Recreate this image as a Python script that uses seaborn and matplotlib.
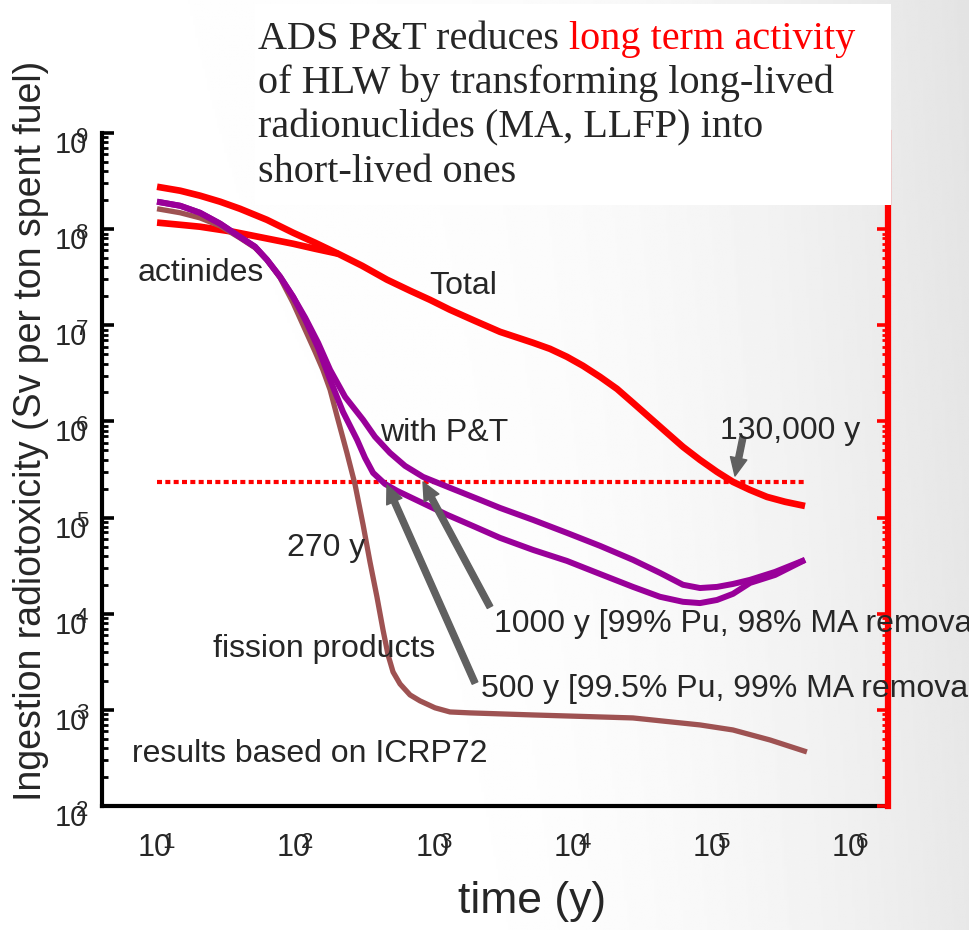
import numpy as np
import pandas as pd
import matplotlib
matplotlib.use("Agg")
import matplotlib.pyplot as plt
import matplotlib.transforms as mtransforms
from matplotlib.patches import Rectangle
from matplotlib.text import Annotation
from matplotlib.ticker import LogLocator, NullFormatter
import seaborn as sns

# ---------------- data ----------------
total_years = [10, 14.7, 20.4, 28.5, 39.6, 62, 95.7, 138, 202, 301, 455, 667,
               929, 1295, 1963, 2972, 5140, 6810, 9030, 11780, 15630, 20730,
               27040, 35840, 47530, 61960, 82200, 109000, 142200, 188500,
               250000, 337000, 470000]
total_sv = [2.76e8, 2.51e8, 2.23e8, 1.93e8, 1.63e8, 1.25e8, 9.18e7, 7.22e7,
            5.55e7, 4.16e7, 2.98e7, 2.29e7, 1.84e7, 1.45e7, 1.11e7, 8.55e6,
            6.58e6, 5.69e6, 4.70e6, 3.79e6, 2.91e6, 2.18e6, 1.56e6, 1.09e6,
            7.61e5, 5.44e5, 3.98e5, 2.99e5, 2.35e5, 1.94e5, 1.64e5, 1.46e5,
            1.32e5]

actinide_years = [10, 14.7, 20.4, 35.3, 59.1, 95.7, 138, 202]
actinide_sv = [1.17e8, 1.11e8, 1.06e8, 9.4e7, 8.1e7, 7.05e7, 6.25e7, 5.55e7]

fp_years = [10, 14.7, 20.4, 28.5, 39.6, 50.9, 62, 77.1, 95.7, 117, 138, 157,
            177, 199, 234, 268, 306, 343, 385, 426, 463, 503, 565, 667, 787,
            1010, 1295, 1805, 5140, 27000, 82200, 142000, 263000, 485000]
fp_sv = [1.63e8, 1.48e8, 1.31e8, 1.08e8, 8.1e7, 6.40e7, 4.81e7, 3.12e7,
         1.71e7, 8.98e6, 5.30e6, 3.44e6, 2.13e6, 1.12e6, 4.71e5, 2.19e5,
         8.4e4, 3.46e4, 1.50e4, 6.78e3, 3.73e3, 2.48e3, 1.86e3, 1.43e3,
         1.24e3, 1.05e3, 951, 930, 885, 824, 697, 618, 486, 365]

pt1000_years = [10, 14.7, 20.4, 28.5, 39.6, 50.9, 62, 77.1, 95.7, 117, 145,
                177, 227, 306, 373, 478, 614, 828, 1295, 2133, 2972, 5140,
                9030, 15630, 27040, 42300, 61960, 82200, 109000, 142200,
                188500, 285700, 470000]
pt1000_sv = [1.93e8, 1.75e8, 1.48e8, 1.14e8, 8.3e7, 6.56e7, 4.81e7, 3.20e7,
             1.98e7, 1.20e7, 6.58e6, 3.44e6, 1.80e6, 1.04e6, 6.92e5, 4.71e5,
             3.45e5, 2.65e5, 2.04e5, 1.53e5, 1.26e5, 9.46e4, 6.93e4, 5.08e4,
             3.63e4, 2.66e4, 2.0e4, 1.85e4, 1.90e4, 2.04e4, 2.25e4, 2.72e4,
             3.63e4]

pt500_years = [10, 14.7, 20.4, 28.5, 39.6, 50.9, 62, 77.1, 95.7, 117, 145,
               177, 219, 277, 316, 361, 440, 537, 787, 1233, 1963, 2972, 5140,
               9030, 15630, 27040, 42300, 61960, 82200, 109000, 142200,
               188500, 285700, 470000]
pt500_sv = [1.93e8, 1.75e8, 1.48e8, 1.14e8, 8.3e7, 6.56e7, 4.81e7, 3.20e7,
            1.98e7, 1.14e7, 5.83e6, 2.71e6, 1.26e6, 6.44e5, 4.18e5, 2.92e5,
            2.24e5, 1.90e5, 1.46e5, 1.07e5, 8.0e4, 6.15e4, 4.61e4, 3.54e4,
            2.59e4, 1.90e4, 1.50e4, 1.33e4, 1.29e4, 1.39e4, 1.61e4, 2.09e4,
            2.53e4, 3.63e4]

threshold_years = [10, 470000]
threshold_sv = [2.35e5, 2.35e5]

decade_exponents_y = [2, 3, 4, 5, 6, 7, 8, 9]
decade_exponents_x = [1, 2, 3, 4, 5, 6]

title_lines = ["of HLW by transforming long-lived",
               "radionuclides (MA, LLFP) into",
               "short-lived ones"]

# ---------------- figure ----------------
sns.set_style("white")
plt.rcParams["font.family"] = ["Liberation Sans", "DejaVu Sans"]

W, H = 970, 930
fig = plt.figure(figsize=(W / 100, H / 100), dpi=100)

def fx(px):
    return px / W

def fy(py):
    return 1 - py / H

# background gradient
bg = fig.add_axes([0, 0, 1, 1], zorder=-10)
xs = np.linspace(0, 1, 400)
ys = np.linspace(0, 1, 300)
XX, YY = np.meshgrid(xs, ys)
shade = 1 - 0.09 * np.clip((XX - 0.4) / 0.6, 0, None) ** 2 - 0.02 * XX * (1 - YY)
bg.imshow(shade, cmap="gray", vmin=0, vmax=1, aspect="auto",
          extent=[0, 1, 0, 1], origin="upper")
bg.set_axis_off()

left_px, right_px, top_px, bottom_px = 102, 888, 133, 806
ax = fig.add_axes([fx(left_px), fy(bottom_px), fx(right_px - left_px),
                   (bottom_px - top_px) / H])
ax.set_facecolor("none")
ax.set_xscale("log")
ax.set_yscale("log")
ax.set_xlim(4.01, 1.864e6)
ax.set_ylim(1e2, 1e9)

red = "#ff0000"
purple = "#990099"
brown = "#9e5252"

def series(x, y):
    return pd.DataFrame({"years": x, "sv": y})

common = dict(ax=ax, x="years", y="sv", solid_capstyle="butt",
              solid_joinstyle="round")
sns.lineplot(data=series(total_years, total_sv), color=red, linewidth=4.8,
             zorder=4, **common)
sns.lineplot(data=series(actinide_years, actinide_sv), color=red, linewidth=4.8,
             zorder=4, **common)
sns.lineplot(data=series(fp_years, fp_sv), color=brown, linewidth=3.8,
             zorder=4, **common)
sns.lineplot(data=series(pt1000_years, pt1000_sv), color=purple, linewidth=4.3,
             zorder=5, **common)
sns.lineplot(data=series(pt500_years, pt500_sv), color=purple, linewidth=4.3,
             zorder=5, **common)
sns.lineplot(data=series(threshold_years, threshold_sv), ax=ax, x="years", y="sv",
             color=red, linewidth=3.0, linestyle=(0, (1.2, 0.8)),
             dash_capstyle="butt", zorder=3)
ax.set_xlabel("")
ax.set_ylabel("")

# spines and ticks
for s in ["top", "right"]:
    ax.spines[s].set_visible(False)
for s in ["left", "bottom"]:
    ax.spines[s].set_color("black")
    ax.spines[s].set_linewidth(3)

ax.xaxis.set_major_locator(LogLocator(base=10, numticks=100))
ax.xaxis.set_minor_locator(LogLocator(base=10, subs=np.arange(2, 10), numticks=100))
ax.yaxis.set_major_locator(LogLocator(base=10, numticks=100))
ax.yaxis.set_minor_locator(LogLocator(base=10, subs=np.arange(2, 10), numticks=100))
for a in (ax.xaxis, ax.yaxis):
    a.set_major_formatter(NullFormatter())
    a.set_minor_formatter(NullFormatter())

ax.tick_params(axis="y", which="major", direction="in", length=8.5, width=2.6,
               color="black", left=True, right=False)
ax.tick_params(axis="y", which="minor", direction="in", length=4.5, width=2,
               color="black", left=True, right=False)
ax.tick_params(axis="x", which="major", direction="in", length=4, width=2,
               color="white", top=False)
ax.tick_params(axis="x", which="minor", direction="in", length=4, width=2,
               color="black", top=False)

ax2 = ax.twinx()
ax2.set_yscale("log")
ax2.set_ylim(1e2, 1e9)
for s in ["top", "left", "bottom"]:
    ax2.spines[s].set_visible(False)
ax2.spines["right"].set_color(red)
ax2.spines["right"].set_linewidth(4.5)
ax2.yaxis.set_major_locator(LogLocator(base=10, numticks=100))
ax2.yaxis.set_minor_locator(LogLocator(base=10, subs=np.arange(2, 10), numticks=100))
ax2.yaxis.set_major_formatter(NullFormatter())
ax2.yaxis.set_minor_formatter(NullFormatter())
ax2.tick_params(axis="y", which="major", direction="in", length=8, width=2.6,
                color=red, right=True)
ax2.tick_params(axis="y", which="minor", direction="in", length=4, width=2,
                color=red, right=True)

# custom tick labels (10 with overlapping exponent)
ty = mtransforms.blended_transform_factory(fig.transFigure, ax.transData)
for e in decade_exponents_y:
    fig.text(fx(87), 10.0 ** e, "10", transform=mtransforms.offset_copy(ty, fig, y=-12, units="dots"),
             ha="right", va="center", fontsize=21, zorder=6)
    fig.text(fx(76), 10.0 ** e, str(e), transform=mtransforms.offset_copy(ty, fig, y=-4, units="dots"),
             ha="left", va="center", fontsize=16, zorder=6)
tx = mtransforms.blended_transform_factory(ax.transData, fig.transFigure)
for e in decade_exponents_x:
    fig.text(10.0 ** e, fy(848), "10", transform=mtransforms.offset_copy(tx, fig, x=-2, units="dots"),
             ha="center", va="center", fontsize=22, zorder=6)
    fig.text(10.0 ** e, fy(842), str(e), transform=mtransforms.offset_copy(tx, fig, x=5, units="dots"),
             ha="left", va="center", fontsize=16, zorder=6)

# axis titles
fig.text(fx(31), fy(431), "Ingestion radiotoxicity (Sv per ton spent fuel)",
         rotation=90, ha="center", va="center", fontsize=27)
fig.text(fx(532), fy(901), "time (y)", ha="center", va="center", fontsize=32)

# annotations
def lab(px, py, s):
    fig.text(fx(px), fy(py), s, ha="left", va="baseline", fontsize=23, zorder=7)

lab(138, 281, "actinides")
lab(429, 294, "Total")
lab(380, 441, "with P&T")
lab(720, 439, "130,000 y")
lab(287, 556, "270 y")
lab(213, 657, "fission products")
lab(494, 632, "1000 y [99% Pu, 98% MA removal]")
lab(481, 697, "500 y [99.5% Pu, 99% MA removal]")
lab(132, 762, "results based on ICRP72")

inv = ax.transData.inverted()
def px2data(px, py):
    return tuple(inv.transform((px, H - py)))

arrow_style = dict(arrowstyle="simple,head_length=0.65,head_width=0.6,tail_width=0.22",
                   color="#606060", shrinkA=0, shrinkB=0, mutation_scale=20)
for tail, head in [((490, 607), (423, 482)), ((475, 683), (387, 485)),
                   ((743, 437), (735, 476))]:
    ax.annotate("", xy=px2data(*head), xytext=px2data(*tail),
                arrowprops=arrow_style, zorder=6)

# text box at top
fig.add_artist(Rectangle((fx(255), fy(205)), fx(891 - 255), (205 - 4) / H,
                         transform=fig.transFigure, facecolor="white",
                         edgecolor="none", zorder=8))
serif = ["Liberation Serif", "DejaVu Serif"]
t1 = fig.text(fx(258), fy(49), "ADS P&T reduces", family=serif, fontsize=29,
              ha="left", va="baseline", zorder=9)
red_part = Annotation("long term activity", xy=(1, 0), xycoords=t1,
                      xytext=(7.5, 0), textcoords="offset points",
                      ha="left", va="bottom", color=red, family=serif,
                      fontsize=29, zorder=9)
fig.add_artist(red_part)
for i, line in enumerate(title_lines):
    fig.text(fx(258), fy(93 + 44.5 * i), line, family=serif, fontsize=29,
             ha="left", va="baseline", zorder=9)

fig.savefig("out.png", dpi=100)
